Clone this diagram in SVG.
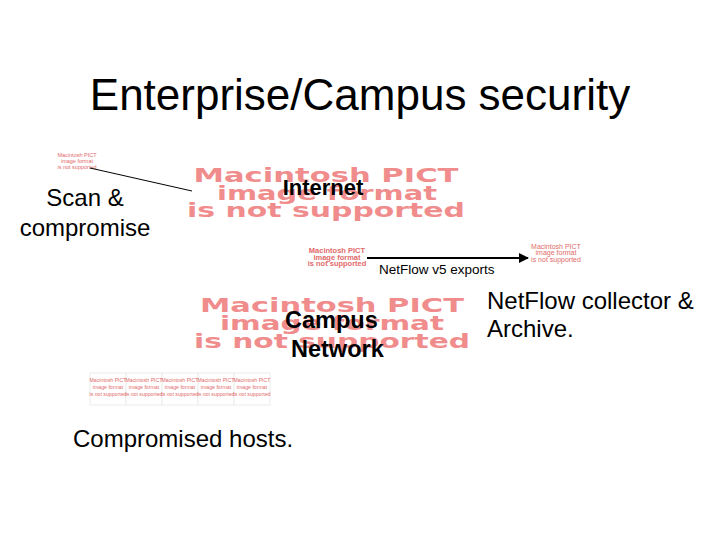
<svg xmlns="http://www.w3.org/2000/svg" width="720" height="540" viewBox="0 0 720 540">
<defs>
<style>
.t{font-family:"Liberation Sans",Arial,sans-serif;fill:#000}
.b{font-weight:bold}
.pict{font-family:"DejaVu Sans","Liberation Sans",sans-serif;font-weight:bold;fill:#f08c8c;text-anchor:middle}
.ps{font-family:"Liberation Sans",Arial,sans-serif;fill:#e26a6a;text-anchor:middle}
.box{fill:#fff;stroke:#ececec;stroke-width:1}
</style>
<marker id="ah" viewBox="0 0 10 10" refX="9" refY="5" markerWidth="5" markerHeight="5" orient="auto">
<path d="M0,0 L10,5 L0,10 z" fill="#000"/>
</marker>
</defs>
<rect width="720" height="540" fill="#fff"/>
<text class="t" x="360" y="110" font-size="44" text-anchor="middle">Enterprise/Campus security</text>

<g id="scan-pict">
<text class="ps" x="77" y="157" font-size="5.5">Macintosh PICT</text>
<text class="ps" x="77" y="163" font-size="5.5">image format</text>
<text class="ps" x="77" y="169" font-size="5.5">is not supported</text>
</g>
<g id="scan-label">
<text class="t" x="85" y="206" font-size="24" text-anchor="middle">Scan &amp;</text>
<text class="t" x="85" y="236" font-size="24" text-anchor="middle">compromise</text>
</g>

<g id="internet">
<text class="pict" x="326" y="182" font-size="20" textLength="265" lengthAdjust="spacingAndGlyphs">Macintosh PICT</text>
<text class="pict" x="327" y="200" font-size="20" textLength="220" lengthAdjust="spacingAndGlyphs">image format</text>
<text class="pict" x="326" y="217" font-size="20" textLength="278" lengthAdjust="spacingAndGlyphs">is not supported</text>
<text class="t b" x="323" y="195" font-size="22" text-anchor="middle">Internet</text>
</g>

<g id="router">
<text class="ps b" x="337" y="253" font-size="7.5">Macintosh PICT</text>
<text class="ps b" x="337" y="259.5" font-size="7.5">image format</text>
<text class="ps b" x="337" y="266" font-size="7.5">is not supported</text>
</g>

<g id="collector-pict">
<text class="ps" x="556" y="248.5" font-size="7">Macintosh PICT</text>
<text class="ps" x="556" y="255" font-size="7">image format</text>
<text class="ps" x="556" y="261.5" font-size="7">is not supported</text>
</g>
<g id="collector-label">
<text class="t" x="487" y="309" font-size="24">NetFlow collector &amp;</text>
<text class="t" x="487" y="337" font-size="24">Archive.</text>
</g>

<g id="campus">
<text class="pict" x="332" y="312" font-size="20" textLength="264" lengthAdjust="spacingAndGlyphs">Macintosh PICT</text>
<text class="pict" x="332" y="330" font-size="20" textLength="224" lengthAdjust="spacingAndGlyphs">image format</text>
<text class="pict" x="332" y="348" font-size="20" textLength="276" lengthAdjust="spacingAndGlyphs">is not supported</text>
<text class="t b" x="285" y="328" font-size="23.5">Campus</text>
<text class="t b" x="291" y="357" font-size="23.5">Network</text>
</g>

<g id="hosts">
<rect class="box" x="90" y="373" width="36" height="32"/>
<rect class="box" x="126" y="373" width="36" height="32"/>
<rect class="box" x="162" y="373" width="36" height="32"/>
<rect class="box" x="198" y="373" width="36" height="32"/>
<rect class="box" x="234" y="373" width="36" height="32"/>
<g class="ps" font-size="5.2">
<text x="108" y="382">Macintosh PICT</text><text x="108" y="389">image format</text><text x="108" y="396">is not supported</text>
<text x="144" y="382">Macintosh PICT</text><text x="144" y="389">image format</text><text x="144" y="396">is not supported</text>
<text x="180" y="382">Macintosh PICT</text><text x="180" y="389">image format</text><text x="180" y="396">is not supported</text>
<text x="216" y="382">Macintosh PICT</text><text x="216" y="389">image format</text><text x="216" y="396">is not supported</text>
<text x="252" y="382">Macintosh PICT</text><text x="252" y="389">image format</text><text x="252" y="396">is not supported</text>
</g>
<text class="t" x="73" y="447" font-size="24">Compromised hosts.</text>
</g>

<g id="connectors">
<line x1="90" y1="168" x2="192" y2="191" stroke="#000" stroke-width="1"/>
<line x1="367" y1="258" x2="528" y2="258" stroke="#000" stroke-width="2" marker-end="url(#ah)"/>
<text class="t" x="379" y="274" font-size="13.5">NetFlow v5 exports</text>
</g>
</svg>
